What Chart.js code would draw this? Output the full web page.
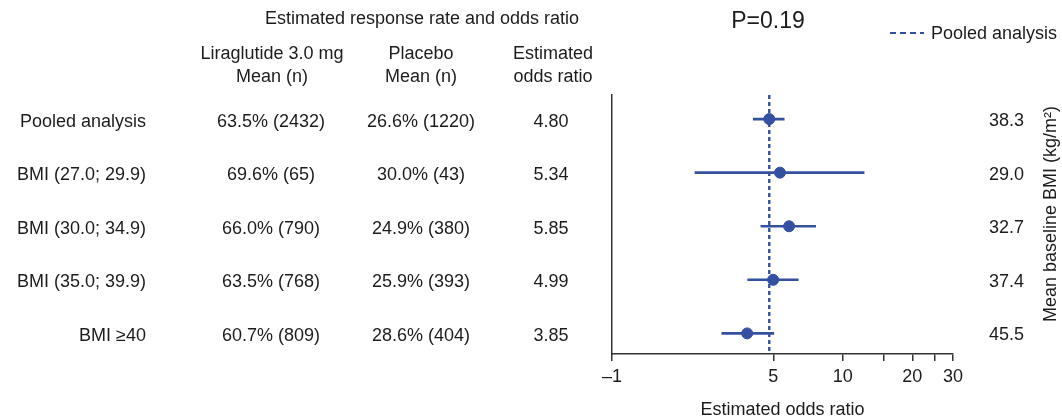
<!DOCTYPE html>
<html>
<head>
<meta charset="utf-8">
<script src="https://cdn.jsdelivr.net/npm/chart.js@4/dist/chart.umd.min.js"></script>
<style>
  html, body { margin: 0; padding: 0; background: #ffffff; }
  #wrap { width: 1062px; height: 419px; }
</style>
</head>
<body>
<div id="wrap"><canvas id="forest" width="1062" height="419"></canvas></div>
<script>
// Subgroups (rows, top to bottom)
const rowLabels = ['Pooled analysis', 'BMI (27.0; 29.9)', 'BMI (30.0; 34.9)', 'BMI (35.0; 39.9)', 'BMI \u226540'];
// Liraglutide 3.0 mg: response rate (%) and n
const liraPct = [63.5, 69.6, 66.0, 63.5, 60.7];
const liraN = [2432, 65, 790, 768, 809];
// Placebo: response rate (%) and n
const placeboPct = [26.6, 30.0, 24.9, 25.9, 28.6];
const placeboN = [1220, 43, 380, 393, 404];
// Estimated odds ratio with confidence limits
const oddsRatio = [4.80, 5.34, 5.85, 4.99, 3.85];
const ciLow = [4.08, 2.28, 4.40, 3.86, 2.98];
const ciHigh = [5.59, 12.4, 7.65, 6.43, 5.04];
// Mean baseline BMI (kg/m2) per row
const baselineBmi = [38.3, 29.0, 32.7, 37.4, 45.5];
// Odds-ratio axis ticks
const xTickValues = [1, 5, 10, 15, 20, 25, 30];
const xTickLabels = ['\u20131', '5', '10', '', '20', '', '30'];
const pValueText = 'P=0.19';

const FONT = "'Liberation Sans', Arial, Helvetica, sans-serif";
const BLUE = '#3450a0';
const INK = '#1c1c1c';
const AXIS = '#333333';
const Y_MIN = -0.45;
const Y_MAX = 4.385;

const fmtPct = (p, n) => p.toFixed(1) + '% (' + n + ')';

// One horizontal segment per subgroup for the confidence interval
const ciDatasets = rowLabels.map((lab, i) => ({
  type: 'line',
  label: lab + ' CI',
  data: [{ x: ciLow[i], y: i }, { x: ciHigh[i], y: i }],
  borderColor: BLUE,
  borderWidth: 2.6,
  pointRadius: 0,
  order: 2
}));

// Table columns and headings to the left of the plot, plus the P value and legend
const tablePlugin = {
  id: 'forestTable',
  afterDraw(chart) {
    const ctx = chart.ctx;
    const ys = chart.scales.y;
    ctx.save();
    ctx.fillStyle = INK;
    ctx.textBaseline = 'alphabetic';
    ctx.font = '18px ' + FONT;

    ctx.textAlign = 'center';
    ctx.fillText('Estimated response rate and odds ratio', 422, 24);
    ctx.fillText('Liraglutide 3.0 mg', 272, 59);
    ctx.fillText('Mean (n)', 272, 82);
    ctx.fillText('Placebo', 421, 59);
    ctx.fillText('Mean (n)', 421, 82);
    ctx.fillText('Estimated', 553, 59);
    ctx.fillText('odds ratio', 553, 82);

    rowLabels.forEach((lab, i) => {
      const base = ys.getPixelForValue(i) + 7.5;
      ctx.textAlign = 'right';
      ctx.fillText(lab, 146, base);
      ctx.textAlign = 'center';
      ctx.fillText(fmtPct(liraPct[i], liraN[i]), 271, base);
      ctx.fillText(fmtPct(placeboPct[i], placeboN[i]), 421, base);
      ctx.fillText(oddsRatio[i].toFixed(2), 551, base);
    });

    // P value
    ctx.font = '23px ' + FONT;
    ctx.textAlign = 'center';
    ctx.fillText(pValueText, 768, 28);

    // Legend for the pooled reference line
    ctx.strokeStyle = BLUE;
    ctx.lineWidth = 2;
    ctx.setLineDash([6, 4]);
    ctx.beginPath();
    ctx.moveTo(890, 33);
    ctx.lineTo(924, 33);
    ctx.stroke();
    ctx.setLineDash([]);
    ctx.font = '18px ' + FONT;
    ctx.textAlign = 'left';
    ctx.fillText('Pooled analysis', 931, 39);

    // Right-hand axis title, reading bottom to top
    ctx.translate(1051, 214);
    ctx.rotate(-Math.PI / 2);
    ctx.font = '18px ' + FONT;
    ctx.textAlign = 'center';
    ctx.textBaseline = 'middle';
    ctx.fillText('Mean baseline BMI (kg/m\u00b2)', 0, 0);
    ctx.restore();
  }
};

new Chart(document.getElementById('forest'), {
  type: 'scatter',
  data: {
    datasets: [
      {
        type: 'scatter',
        label: 'Estimated odds ratio',
        data: oddsRatio.map((v, i) => ({ x: v, y: i })),
        backgroundColor: BLUE,
        borderColor: BLUE,
        pointRadius: 5.5,
        pointHoverRadius: 5.5,
        order: 1
      },
      ...ciDatasets,
      {
        type: 'line',
        label: 'Pooled analysis',
        data: [{ x: oddsRatio[0], y: Y_MIN }, { x: oddsRatio[0], y: Y_MAX }],
        borderColor: BLUE,
        borderWidth: 2.4,
        borderDash: [4, 3],
        pointRadius: 0,
        order: 3
      }
    ]
  },
  options: {
    responsive: false,
    animation: false,
    devicePixelRatio: 1,
    layout: { padding: { left: 612, top: 95, right: 0, bottom: 0 } },
    plugins: {
      legend: { display: false },
      tooltip: { enabled: false },
      title: { display: false }
    },
    scales: {
      x: {
        type: 'logarithmic',
        min: 1,
        max: 30,
        afterBuildTicks: (axis) => { axis.ticks = xTickValues.map(v => ({ value: v })); },
        afterFit: (axis) => { axis.height = 65; },
        ticks: {
          autoSkip: false,
          maxRotation: 0,
          padding: 5,
          color: INK,
          font: { family: FONT, size: 18 },
          callback: (value) => {
            const k = xTickValues.indexOf(value);
            return k >= 0 ? xTickLabels[k] : '';
          }
        },
        grid: { drawOnChartArea: false, drawTicks: true, tickLength: 7, color: AXIS, lineWidth: 1.5 },
        border: { display: true, color: AXIS, width: 1.5 },
        title: {
          display: true,
          text: 'Estimated odds ratio',
          color: INK,
          font: { family: FONT, size: 18 },
          padding: { top: 0, bottom: -2 }
        }
      },
      y: {
        type: 'linear',
        position: 'left',
        reverse: true,
        min: Y_MIN,
        max: Y_MAX,
        afterFit: (axis) => { axis.width = 0; },
        ticks: { display: false },
        grid: { display: false, drawTicks: false },
        border: { display: true, color: AXIS, width: 1.5 }
      },
      bmi: {
        type: 'linear',
        position: 'right',
        reverse: true,
        min: Y_MIN,
        max: Y_MAX,
        afterBuildTicks: (axis) => { axis.ticks = baselineBmi.map((_, i) => ({ value: i })); },
        afterFit: (axis) => { axis.width = 109; },
        ticks: {
          autoSkip: false,
          padding: 36,
          labelOffset: 2,
          color: INK,
          font: { family: FONT, size: 18 },
          callback: (value) => baselineBmi[value] !== undefined ? baselineBmi[value].toFixed(1) : ''
        },
        grid: { display: false, drawTicks: false },
        border: { display: false }
      }
    }
  },
  plugins: [tablePlugin]
});
</script>
</body>
</html>
